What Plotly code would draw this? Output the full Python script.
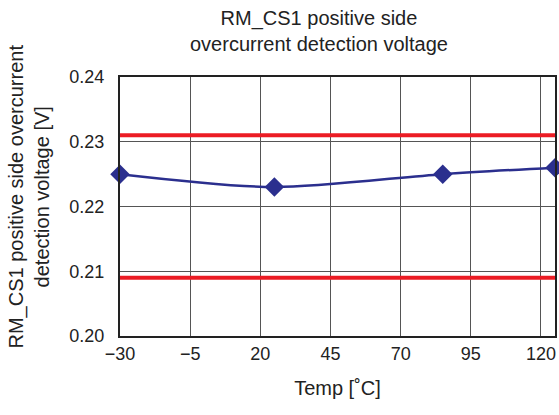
import plotly.graph_objects as go

temps = [-30, 25, 85, 125]
voltage = [0.225, 0.223, 0.225, 0.226]
limit_x = [-30, 125]
upper_limit = 0.231
lower_limit = 0.209
x_ticks = [-30, -5, 20, 45, 70, 95, 120]
x_ticklabels = ["\u221230", "\u22125", "20", "45", "70", "95", "120"]
y_ticks = [0.20, 0.21, 0.22, 0.23, 0.24]
y_ticklabels = ["0.20", "0.21", "0.22", "0.23", "0.24"]
title_text = "RM_CS1 positive side<br>overcurrent detection voltage"
x_title = "Temp [\u02daC]"
y_title = "RM_CS1 positive side overcurrent<br>detection voltage [V]"

font = "Liberation Sans, Arial, sans-serif"

fig = go.Figure()
for lim in (upper_limit, lower_limit):
    fig.add_trace(go.Scatter(x=limit_x, y=[lim, lim], mode="lines",
                             line=dict(color="#ec1c24", width=4),
                             showlegend=False, hoverinfo="skip", cliponaxis=True))
fig.add_trace(go.Scatter(x=temps, y=voltage, mode="lines+markers",
                         line=dict(color="#2b2f8e", width=2.5, shape="spline", smoothing=0.8),
                         marker=dict(symbol="diamond", size=15, color="#2b2f8e"),
                         showlegend=False, cliponaxis=False))

fig.update_layout(
    width=559, height=415,
    margin=dict(l=120, r=2, t=77, b=79),
    paper_bgcolor="white", plot_bgcolor="white",
    font=dict(family=font, size=18, color="#222"),
    xaxis=dict(range=[-30, 125], tickvals=x_ticks, ticktext=x_ticklabels,
               showgrid=True, gridcolor="#555", gridwidth=1,
               showline=True, linecolor="#222", linewidth=2, mirror=True,
               zeroline=False, ticks="", ticklen=0,
               title=dict(text=x_title, standoff=18, font=dict(size=20))),
    yaxis=dict(range=[0.20, 0.24], tickvals=y_ticks, ticktext=y_ticklabels,
               showgrid=True, gridcolor="#555", gridwidth=1,
               showline=True, linecolor="#222", linewidth=2, mirror=True,
               zeroline=False, ticks="", ticklen=0, ticklabelstandoff=10),
    annotations=[
        dict(text=title_text, xref="paper", yref="paper", x=0.4577, y=1,
             xanchor="center", yanchor="bottom", yshift=20, showarrow=False,
             font=dict(size=20, family=font, color="#222")),
        dict(text=y_title, xref="paper", yref="paper", x=0, y=0.5,
             xanchor="center", yanchor="middle", xshift=-92, yshift=10,
             textangle=-90, showarrow=False,
             font=dict(size=20, family=font, color="#222")),
    ],
)

fig.write_html(
    "out.html",
    config={"displayModeBar": False},
    post_script="document.body.style.margin='0';document.body.style.overflow='hidden';",
)
